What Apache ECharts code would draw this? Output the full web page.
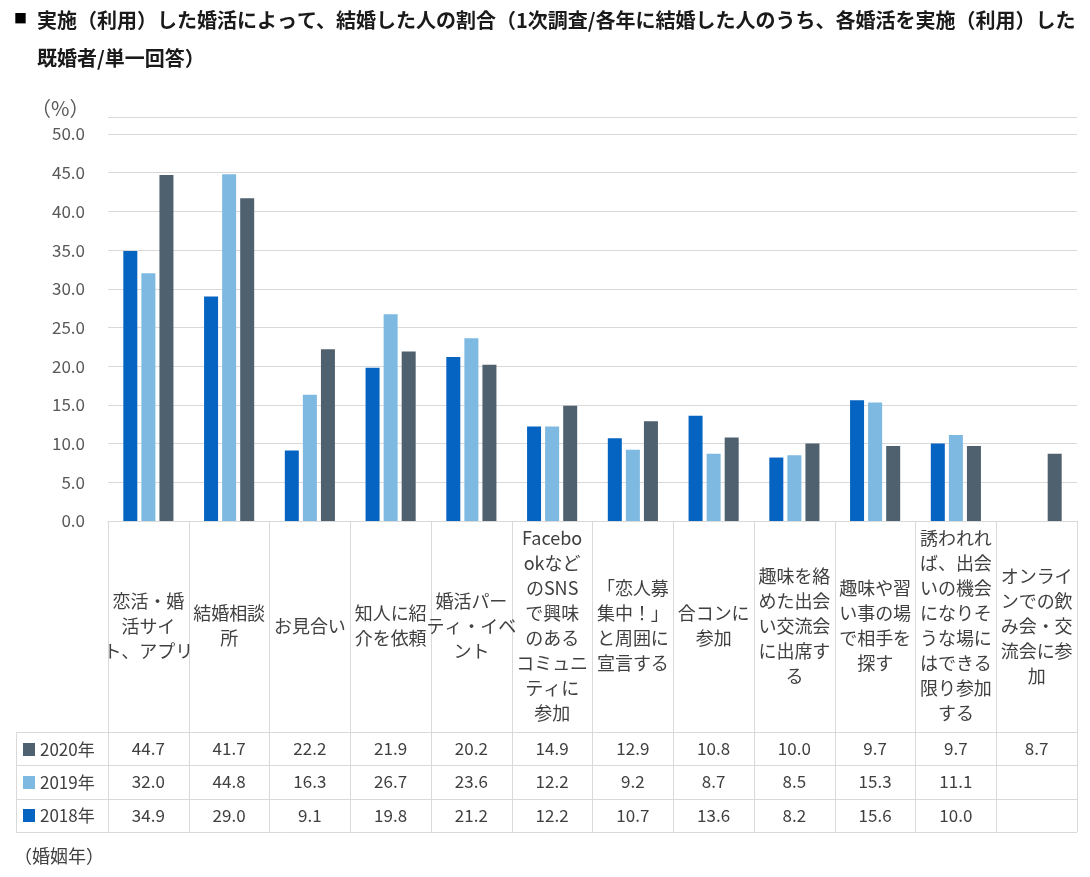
<!DOCTYPE html>
<html>
<head>
<meta charset="utf-8">
<script src="https://cdn.jsdelivr.net/npm/echarts@6/dist/echarts.min.js"></script>
<style>
html,body{margin:0;padding:0;background:#fff;}
#main{width:1090px;height:877px;}
</style>
</head>
<body>
<div id="main"></div>
<script>
// ---- data ----
const categories = [
  '恋活・婚\n活サイ\nト、アプリ',
  '結婚相談\n所',
  'お見合い',
  '知人に紹\n介を依頼',
  '婚活パー\nティ・イベ\nント',
  'Facebo\nokなど\nのSNS\nで興味\nのある\nコミュニ\nティに\n参加',
  '「恋人募\n集中！」\nと周囲に\n宣言する',
  '合コンに\n参加',
  '趣味を絡\nめた出会\nい交流会\nに出席す\nる',
  '趣味や習\nい事の場\nで相手を\n探す',
  '誘われれ\nば、出会\nいの機会\nになりそ\nうな場に\nはできる\n限り参加\nする',
  'オンライ\nンでの飲\nみ会・交\n流会に参\n加'
];
const seriesNames = ['2018年', '2019年', '2020年'];
const values2018 = [34.9, 29.0, 9.1, 19.8, 21.2, 12.2, 10.7, 13.6, 8.2, 15.6, 10.0, null];
const values2019 = [32.0, 44.8, 16.3, 26.7, 23.6, 12.2, 9.2, 8.7, 8.5, 15.3, 11.1, null];
const values2020 = [44.7, 41.7, 22.2, 21.9, 20.2, 14.9, 12.9, 10.8, 10.0, 9.7, 9.7, 8.7];
const colors = ['#0563C1', '#7DB9E0', '#4F616E'];
const titleText = '実施（利用）した婚活によって、結婚した人の割合（1次調査/各年に結婚した人のうち、各婚活を実施（利用）した\n既婚者/単一回答）';
const yUnit = '（%）';
const xUnit = '（婚姻年）';

// ---- chart ----
const FONT = '"Noto Sans CJK JP", "Noto Sans", sans-serif';
const chart = echarts.init(document.getElementById('main'), null, {renderer: 'canvas'});
const allValues = [values2018, values2019, values2020];
const tableRows = [2, 1, 0]; // 2020, 2019, 2018 top to bottom
const GRID_LEFT = 108, GRID_RIGHT = 13, AXIS_Y = 521;
const rowTop = 732, rowH = 33.3;

const xAxes = [{
  type: 'category',
  data: categories,
  axisLine: {lineStyle: {color: '#D9D9D9', width: 1}},
  axisTick: {show: true, length: 311, lineStyle: {color: '#D9D9D9'}},
  axisLabel: {
    interval: 0, margin: 105, verticalAlign: 'middle', align: 'center',
    fontSize: 18, lineHeight: 25, color: '#404040', fontFamily: FONT
  }
}];
tableRows.forEach((si, r) => {
  xAxes.push({
    type: 'category',
    data: categories,
    position: 'bottom',
    offset: (rowTop - AXIS_Y) + rowH * r + rowH / 2,
    axisLine: {show: false},
    axisTick: {show: false},
    axisLabel: {
      interval: 0, margin: 0, verticalAlign: 'middle',
      fontSize: 17, color: '#404040', fontFamily: FONT,
      formatter: (v, idx) => allValues[si][idx] == null ? '' : allValues[si][idx].toFixed(1)
    }
  });
});

const graphics = [];
for (let i = 0; i <= 3; i++) {
  const y = Math.round(rowTop + rowH * i) + 0.5;
  graphics.push({type: 'line', shape: {x1: 16, y1: y, x2: 1077, y2: y}, style: {stroke: '#D9D9D9', lineWidth: 1}, silent: true});
}
graphics.push({type: 'line', shape: {x1: 16.5, y1: rowTop, x2: 16.5, y2: Math.round(rowTop + rowH * 3) + 0.5}, style: {stroke: '#D9D9D9', lineWidth: 1}, silent: true});
graphics.push({type: 'text', left: 31, top: 98, style: {text: yUnit, fontSize: 20, fill: '#595959', fontFamily: FONT}});
graphics.push({type: 'text', left: 14, top: 847, style: {text: xUnit, fontSize: 18, fill: '#404040', fontFamily: FONT}});

const option = {
  animation: false,
  backgroundColor: '#fff',
  color: colors,
  textStyle: {fontFamily: FONT},
  title: [
    {text: '■', left: 14, top: 12, padding: 0, textStyle: {fontSize: 13, color: '#000', fontFamily: FONT}},
    {text: titleText, left: 37, top: 1, padding: 0, textStyle: {fontSize: 20, fontWeight: 'bold', lineHeight: 38, color: '#1a1a1a', fontFamily: FONT}}
  ],
  grid: {left: GRID_LEFT, right: GRID_RIGHT, top: 117, bottom: 877 - AXIS_Y, containLabel: false},
  legend: {
    data: ['2020年', '2019年', '2018年'],
    orient: 'vertical', left: 23, top: 741, padding: 0,
    icon: 'rect', itemWidth: 12, itemHeight: 13, itemGap: 16,
    textStyle: {fontSize: 17, color: '#404040', fontFamily: FONT}
  },
  xAxis: xAxes,
  yAxis: {
    type: 'value', min: 0, max: 52.2, interval: 5,
    axisLine: {show: false}, axisTick: {show: false},
    splitLine: {lineStyle: {color: '#D9D9D9', width: 1}},
    axisLabel: {
      margin: 23, fontSize: 17, color: '#595959', fontFamily: FONT,
      formatter: v => (Math.abs(v % 5) < 1e-9 ? v.toFixed(1) : '')
    }
  },
  series: seriesNames.map((name, i) => ({
    name: name, type: 'bar', xAxisIndex: 0,
    data: allValues[i], barWidth: 14, barGap: '29%',
    itemStyle: {color: colors[i]}
  })),
  graphic: graphics
};
chart.setOption(option);
</script>
</body>
</html>
